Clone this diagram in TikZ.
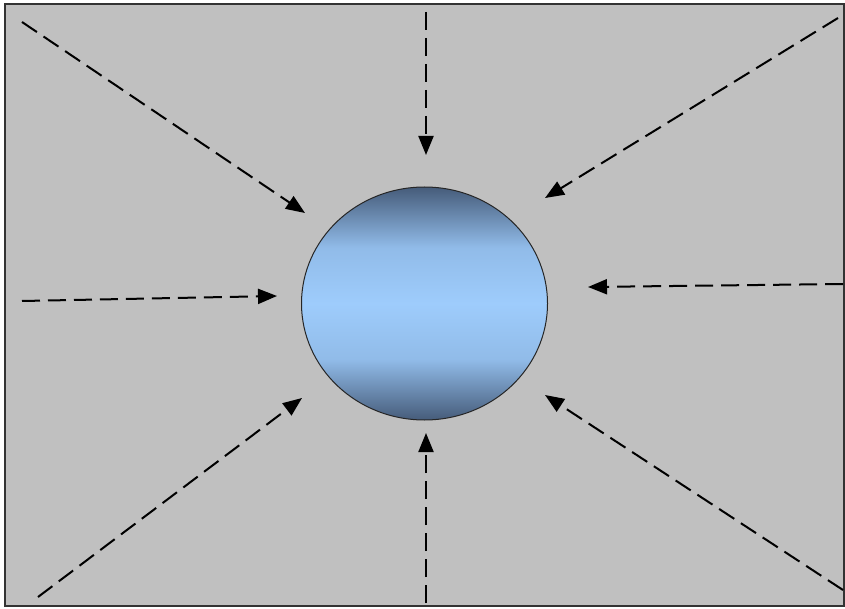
\documentclass[tikz,border=0pt]{standalone}
\usetikzlibrary{arrows.meta}
\definecolor{bggray}{RGB}{192,192,192}
\definecolor{balldark}{RGB}{70,92,122}
\definecolor{balllight}{RGB}{158,204,252}
\pgfdeclareverticalshading{ballshade}{100bp}{
  color(0bp)=(balldark);
  color(25bp)=(balldark);
  color(38bp)=(balllight!85!balldark);
  color(50bp)=(balllight);
  color(62bp)=(balllight!85!balldark);
  color(75bp)=(balldark);
  color(100bp)=(balldark)}
\tikzset{
  ray/.style={dash pattern=on 18pt off 8pt, line width=2pt, black,
    -{Triangle[length=19pt,width=15pt]}},
  ball/.style={ellipse, minimum width=246pt, minimum height=233pt,
    inner sep=0pt, draw=black!85, line width=1pt, shading=ballshade}
}
\usetikzlibrary{shapes.geometric}
\begin{document}
\begin{tikzpicture}[x=1pt,y=-1pt]
  \useasboundingbox (0,0) rectangle (845,609);
  \fill[white] (0,0) rectangle (845,609);
  \draw[fill=bggray, draw=black!80, line width=1.5pt] (5,4) rectangle (844,606);
  \node[ball] (sun) at (424.5,303.5) {};
  % start coordinates
  \coordinate (s1) at (22,22);
  \coordinate (s2) at (426,12);
  \coordinate (s3) at (838,18);
  \coordinate (s4) at (22,301);
  \coordinate (s5) at (843,284);
  \coordinate (s6) at (38,597);
  \coordinate (s7) at (426,603);
  \coordinate (s8) at (843,590);
  % tip coordinates
  \coordinate (t1) at (305,213);
  \coordinate (t2) at (426,155);
  \coordinate (t3) at (545,198);
  \coordinate (t4) at (277,296);
  \coordinate (t5) at (588,287);
  \coordinate (t6) at (302,398);
  \coordinate (t7) at (426,433);
  \coordinate (t8) at (545,395);
  \foreach \i in {1,...,8} {\draw[ray] (s\i) -- (t\i);}
\end{tikzpicture}
\end{document}
